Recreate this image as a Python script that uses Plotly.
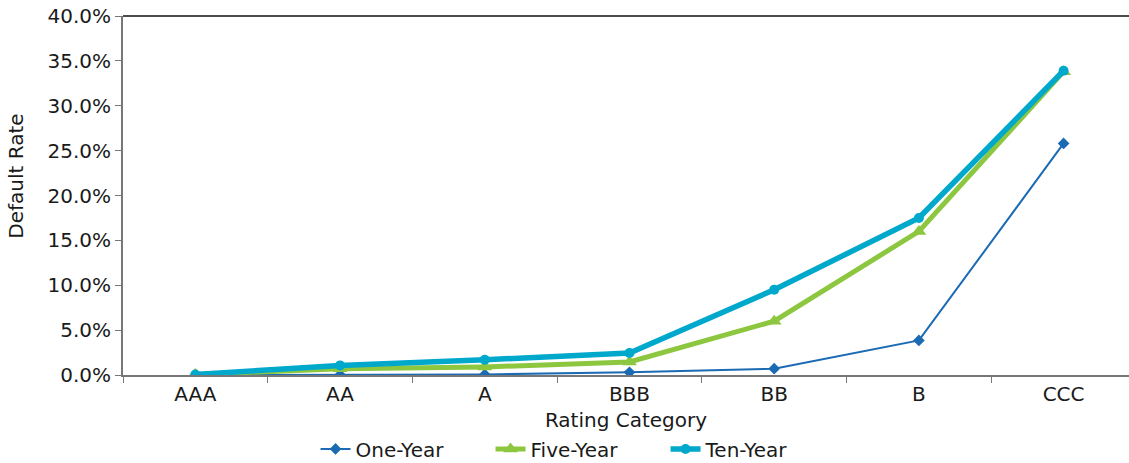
import plotly.graph_objects as go

categories = ["AAA", "AA", "A", "BBB", "BB", "B", "CCC"]
one_year = [0.0, 0.02, 0.06, 0.30, 0.70, 3.85, 25.8]
five_year = [0.05, 0.70, 0.90, 1.45, 6.0, 16.0, 33.8]
ten_year = [0.05, 1.07, 1.70, 2.45, 9.5, 17.5, 33.9]
y_ticks = [0, 5, 10, 15, 20, 25, 30, 35, 40]
y_tick_labels = [f"{v:.1f}%" for v in y_ticks]

FONT = "DejaVu Sans, Verdana, sans-serif"
FS = 20

fig = go.Figure()
fig.add_trace(go.Scatter(x=categories, y=one_year, name="One-Year", mode="lines+markers",
                         line=dict(color="#1B6AB4", width=2),
                         marker=dict(symbol="diamond", size=9, color="#1B6AB4")))
fig.add_trace(go.Scatter(x=categories, y=five_year, name="Five-Year", mode="lines+markers",
                         line=dict(color="#8DC63F", width=5),
                         marker=dict(symbol="triangle-up", size=13, color="#8DC63F")))
fig.add_trace(go.Scatter(x=categories, y=ten_year, name="Ten-Year", mode="lines+markers",
                         line=dict(color="#00A8CB", width=5.5),
                         marker=dict(symbol="circle", size=10, color="#00A8CB")))

fig.update_layout(
    width=1129, height=463,
    margin=dict(l=123, r=0, t=16, b=88, autoexpand=False),
    plot_bgcolor="white", paper_bgcolor="white",
    font=dict(family=FONT, size=FS, color="#1a1a1a"),
    showlegend=True,
    legend=dict(orientation="h", x=0.1914, xanchor="left", y=-0.206, yanchor="middle",
                font=dict(size=FS), entrywidth=130, itemwidth=30,
                traceorder="normal"),
    xaxis=dict(type="category", range=[-0.5, 6.452], tickson="boundaries",
               ticks="outside", ticklen=6, tickcolor="#777", showline=True,
               linecolor="#777", linewidth=2, showgrid=False, zeroline=False,
               title=dict(text="Rating Category", font=dict(size=FS), standoff=8),
               tickfont=dict(size=FS), automargin=False),
    yaxis=dict(range=[0, 40], tickvals=y_ticks, ticktext=y_tick_labels,
               ticks="outside", ticklen=6, tickcolor="#777", showline=True,
               linecolor="#777", linewidth=2, showgrid=False, zeroline=False,
               ticklabeloverflow="allow", automargin=False,
               tickfont=dict(size=FS)),
    annotations=[dict(text="Default Rate", textangle=-90, showarrow=False,
                      xref="paper", yref="paper", x=-0.1064, y=0.555,
                      xanchor="center", yanchor="middle", font=dict(size=FS))],
    shapes=[dict(type="line", xref="paper", yref="paper", x0=0, x1=1, y0=1, y1=1,
                 line=dict(color="#111", width=1.5))],
)

fig.write_html("out.html", config={"displayModeBar": False},
               post_script="document.body.style.margin='0px';document.body.style.overflow='hidden';")
